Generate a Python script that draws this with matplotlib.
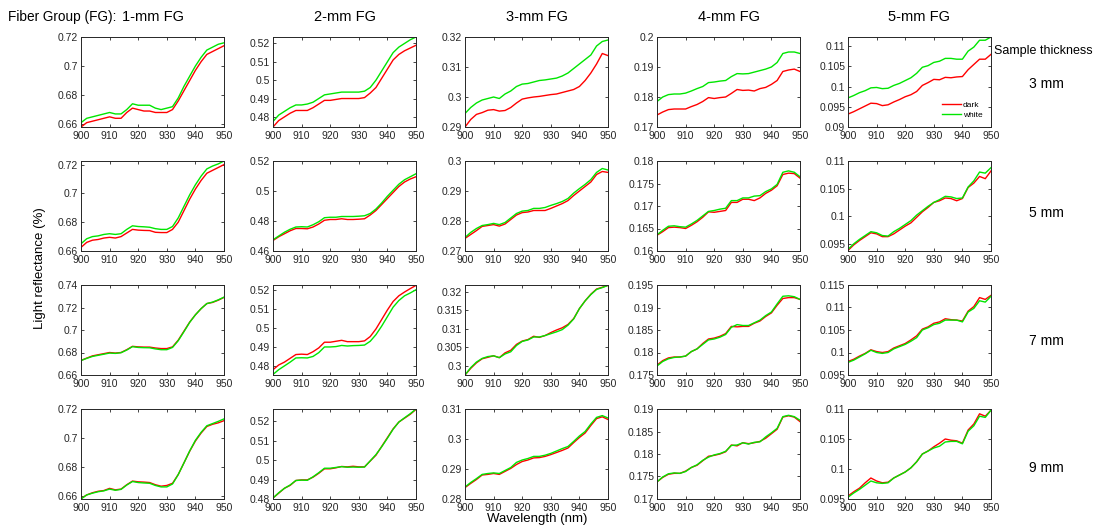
import matplotlib
matplotlib.use("Agg")
import matplotlib.pyplot as plt
from matplotlib.ticker import MultipleLocator, FuncFormatter

plt.rcParams['font.family'] = ['Liberation Sans', 'DejaVu Sans']

# wavelength samples (nm)
wl = [900, 902, 904, 906, 908, 910, 912, 914, 916, 918, 920, 922, 924,
      926, 928, 930, 932, 934, 936, 938, 940, 942, 944, 946, 948, 950]

fiber_groups = ['1-mm FG', '2-mm FG', '3-mm FG', '4-mm FG', '5-mm FG']
thickness = ['3 mm', '5 mm', '7 mm', '9 mm']

# ---- 3 mm samples ----
d3_1 = [0.658, 0.661, 0.662, 0.663, 0.664, 0.665, 0.664, 0.664, 0.668, 0.671, 0.670, 0.669, 0.669,
        0.668, 0.668, 0.668, 0.670, 0.676, 0.683, 0.690, 0.697, 0.703, 0.708, 0.710, 0.712, 0.714]
w3_1 = [0.661, 0.664, 0.665, 0.666, 0.667, 0.668, 0.667, 0.667, 0.670, 0.674, 0.673, 0.673, 0.673,
        0.671, 0.670, 0.671, 0.672, 0.678, 0.686, 0.693, 0.700, 0.706, 0.711, 0.713, 0.715, 0.716]
d3_2 = [0.4745, 0.478, 0.480, 0.482, 0.4835, 0.4835, 0.4835, 0.485, 0.487, 0.489, 0.489, 0.4895, 0.490,
        0.490, 0.490, 0.490, 0.4905, 0.493, 0.496, 0.501, 0.506, 0.511, 0.514, 0.516, 0.5175, 0.519]
w3_2 = [0.4775, 0.481, 0.483, 0.485, 0.4865, 0.4865, 0.487, 0.488, 0.490, 0.492, 0.4925, 0.493, 0.4935,
        0.4935, 0.4935, 0.4935, 0.494, 0.496, 0.500, 0.505, 0.510, 0.515, 0.518, 0.520, 0.522, 0.5235]
d3_3 = [0.2900, 0.2925, 0.2942, 0.2948, 0.2956, 0.2958, 0.2953, 0.2955, 0.2965, 0.2980, 0.2993, 0.2997, 0.3000,
        0.3002, 0.3005, 0.3008, 0.3010, 0.3015, 0.3020, 0.3025, 0.3035, 0.3055, 0.3080, 0.3110, 0.3145, 0.3138]
w3_3 = [0.2945, 0.2965, 0.2980, 0.2990, 0.2995, 0.3000, 0.2995, 0.3010, 0.3020, 0.3035, 0.3043, 0.3045, 0.3050,
        0.3055, 0.3057, 0.3060, 0.3063, 0.3070, 0.3080, 0.3095, 0.3110, 0.3125, 0.3140, 0.3170, 0.3185, 0.3190]
d3_4 = [0.1740, 0.1750, 0.1758, 0.1760, 0.1760, 0.1760, 0.1768, 0.1775, 0.1785, 0.1798, 0.1795, 0.1798, 0.1800,
        0.1812, 0.1825, 0.1822, 0.1823, 0.1820, 0.1828, 0.1832, 0.1842, 0.1855, 0.1885, 0.1890, 0.1893, 0.1885]
w3_4 = [0.1785, 0.1800, 0.1808, 0.1810, 0.1810, 0.1813, 0.1820, 0.1828, 0.1835, 0.1848, 0.1850, 0.1853, 0.1855,
        0.1868, 0.1878, 0.1877, 0.1878, 0.1883, 0.1888, 0.1893, 0.1900, 0.1915, 0.1945, 0.1950, 0.1950, 0.1945]
d3_5 = [0.0932, 0.0938, 0.0945, 0.0952, 0.0959, 0.0958, 0.0953, 0.0955, 0.0962, 0.0968, 0.0975, 0.0980, 0.0988,
        0.1003, 0.1010, 0.1018, 0.1017, 0.1023, 0.1022, 0.1024, 0.1025, 0.1042, 0.1055, 0.1068, 0.1068, 0.1080]
w3_5 = [0.0972, 0.0978, 0.0985, 0.0990, 0.0997, 0.0998, 0.0995, 0.0996, 0.1003, 0.1008, 0.1015, 0.1022, 0.1033,
        0.1048, 0.1052, 0.1060, 0.1063, 0.1070, 0.1070, 0.1068, 0.1068, 0.1088, 0.1098, 0.1115, 0.1115, 0.1123]

# ---- 5 mm samples ----
d5_1 = [0.6625, 0.666, 0.6675, 0.668, 0.669, 0.6695, 0.669, 0.670, 0.6725, 0.675, 0.6745, 0.6743, 0.6742,
        0.673, 0.6728, 0.6728, 0.675, 0.680, 0.688, 0.696, 0.703, 0.709, 0.714, 0.716, 0.718, 0.720]
w5_1 = [0.665, 0.6685, 0.670, 0.6705, 0.6715, 0.672, 0.6715, 0.672, 0.675, 0.6775, 0.677, 0.6768, 0.6765,
        0.6755, 0.675, 0.675, 0.677, 0.683, 0.691, 0.699, 0.706, 0.712, 0.717, 0.719, 0.7205, 0.7225]
d5_2 = [0.467, 0.4695, 0.4715, 0.4735, 0.475, 0.475, 0.4748, 0.476, 0.478, 0.4805, 0.481, 0.481, 0.4815,
        0.481, 0.481, 0.4812, 0.4815, 0.484, 0.487, 0.491, 0.495, 0.499, 0.503, 0.506, 0.508, 0.5095]
w5_2 = [0.4675, 0.470, 0.4725, 0.4745, 0.476, 0.4762, 0.476, 0.4775, 0.4795, 0.4822, 0.4825, 0.4825, 0.483,
        0.483, 0.483, 0.4832, 0.4835, 0.485, 0.488, 0.492, 0.4965, 0.5005, 0.5045, 0.5075, 0.5095, 0.5115]
d5_3 = [0.2742, 0.2755, 0.2768, 0.2782, 0.2785, 0.2788, 0.2783, 0.2790, 0.2805, 0.2820, 0.2828, 0.2830, 0.2835,
        0.2835, 0.2835, 0.2842, 0.2850, 0.2858, 0.2868, 0.2885, 0.2900, 0.2915, 0.2930, 0.2955, 0.2965, 0.2962]
w5_3 = [0.2745, 0.2762, 0.2775, 0.2785, 0.2788, 0.2792, 0.2788, 0.2795, 0.2810, 0.2825, 0.2833, 0.2835, 0.2842,
        0.2842, 0.2845, 0.2852, 0.2858, 0.2865, 0.2875, 0.2893, 0.2908, 0.2922, 0.2938, 0.2962, 0.2975, 0.2970]
d5_4 = [0.1635, 0.1643, 0.1652, 0.1653, 0.1652, 0.1650, 0.1657, 0.1665, 0.1675, 0.1687, 0.1686, 0.1688, 0.1690,
        0.1708, 0.1708, 0.1715, 0.1715, 0.1712, 0.1718, 0.1728, 0.1735, 0.1745, 0.1770, 0.1773, 0.1772, 0.1762]
w5_4 = [0.1636, 0.1646, 0.1655, 0.1656, 0.1654, 0.1653, 0.1660, 0.1668, 0.1678, 0.1688, 0.1690, 0.1693, 0.1695,
        0.1712, 0.1712, 0.1718, 0.1718, 0.1722, 0.1723, 0.1732, 0.1738, 0.1748, 0.1775, 0.1778, 0.1775, 0.1765]
d5_5 = [0.0938, 0.0948, 0.0956, 0.0963, 0.0970, 0.0968, 0.0963, 0.0963, 0.0968, 0.0975, 0.0982, 0.0988, 0.0998,
        0.1008, 0.1016, 0.1025, 0.1028, 0.1033, 0.1032, 0.1028, 0.1032, 0.1052, 0.1060, 0.1072, 0.1068, 0.1082]
w5_5 = [0.0940, 0.0950, 0.0958, 0.0965, 0.0972, 0.0970, 0.0965, 0.0964, 0.0972, 0.0978, 0.0985, 0.0992, 0.1002,
        0.1010, 0.1018, 0.1025, 0.1030, 0.1036, 0.1035, 0.1032, 0.1033, 0.1053, 0.1064, 0.1080, 0.1078, 0.1088]

# ---- 7 mm samples ----
d7_1 = [0.673, 0.675, 0.677, 0.678, 0.679, 0.680, 0.6795, 0.680, 0.6825, 0.6855, 0.685, 0.6848, 0.6848,
        0.684, 0.6835, 0.6835, 0.685, 0.691, 0.699, 0.707, 0.7135, 0.719, 0.7235, 0.7245, 0.7265, 0.729]
w7_1 = [0.6728, 0.6748, 0.6765, 0.6775, 0.6785, 0.6795, 0.6792, 0.6798, 0.6822, 0.6852, 0.6845, 0.6843, 0.6842,
        0.6832, 0.6825, 0.6825, 0.6845, 0.6905, 0.6985, 0.7068, 0.7135, 0.719, 0.7235, 0.7248, 0.7268, 0.7292]
d7_2 = [0.478, 0.4805, 0.482, 0.484, 0.486, 0.4862, 0.486, 0.4875, 0.4895, 0.4925, 0.4925, 0.493, 0.4935,
        0.4928, 0.4928, 0.4928, 0.4932, 0.4955, 0.4995, 0.5045, 0.5095, 0.514, 0.517, 0.519, 0.5208, 0.5225]
w7_2 = [0.4755, 0.478, 0.480, 0.482, 0.4842, 0.4843, 0.4842, 0.485, 0.487, 0.490, 0.490, 0.4902, 0.4908,
        0.4905, 0.4907, 0.4908, 0.491, 0.493, 0.4965, 0.501, 0.506, 0.511, 0.5145, 0.517, 0.5185, 0.5202]
d7_3 = [0.2975, 0.2993, 0.3008, 0.3019, 0.3023, 0.3027, 0.3022, 0.3035, 0.3042, 0.3058, 0.3067, 0.3071, 0.3080,
        0.3077, 0.3082, 0.3090, 0.3097, 0.3103, 0.3112, 0.3128, 0.3155, 0.3176, 0.3194, 0.3208, 0.3213, 0.3218]
w7_3 = [0.2975, 0.2995, 0.3010, 0.3020, 0.3025, 0.3027, 0.3022, 0.3032, 0.3038, 0.3055, 0.3066, 0.3070, 0.3078,
        0.3078, 0.3082, 0.3087, 0.3092, 0.3098, 0.3110, 0.3127, 0.3155, 0.3176, 0.3193, 0.3207, 0.3212, 0.3218]
d7_4 = [0.1772, 0.1782, 0.1788, 0.1790, 0.1790, 0.1792, 0.1802, 0.1808, 0.1820, 0.1830, 0.1832, 0.1836, 0.1842,
        0.1858, 0.1857, 0.1858, 0.1858, 0.1865, 0.1870, 0.1880, 0.1888, 0.1905, 0.1920, 0.1922, 0.1922, 0.1918]
w7_4 = [0.1770, 0.1780, 0.1786, 0.1789, 0.1790, 0.1792, 0.1802, 0.1808, 0.1818, 0.1828, 0.1830, 0.1834, 0.1840,
        0.1856, 0.1862, 0.1860, 0.1860, 0.1866, 0.1872, 0.1882, 0.1890, 0.1908, 0.1925, 0.1926, 0.1924, 0.1918]
d7_5 = [0.0980, 0.0985, 0.0992, 0.0998, 0.1006, 0.1002, 0.1000, 0.1002, 0.1010, 0.1015, 0.1020, 0.1028, 0.1037,
        0.1052, 0.1057, 0.1065, 0.1068, 0.1075, 0.1073, 0.1072, 0.1070, 0.1092, 0.1102, 0.1122, 0.1118, 0.1127]
w7_5 = [0.0978, 0.0983, 0.0990, 0.0997, 0.1005, 0.1000, 0.0998, 0.1000, 0.1008, 0.1013, 0.1018, 0.1025, 0.1033,
        0.1050, 0.1055, 0.1062, 0.1065, 0.1072, 0.1072, 0.1072, 0.1068, 0.1090, 0.1098, 0.1115, 0.1112, 0.1125]

# ---- 9 mm samples ----
d9_1 = [0.6585, 0.661, 0.6625, 0.6635, 0.664, 0.6655, 0.6645, 0.665, 0.668, 0.6705, 0.670, 0.6698, 0.6695,
        0.668, 0.667, 0.6675, 0.669, 0.675, 0.683, 0.691, 0.698, 0.7035, 0.708, 0.7095, 0.7105, 0.712]
w9_1 = [0.6582, 0.661, 0.6622, 0.6632, 0.6638, 0.665, 0.6642, 0.6648, 0.6678, 0.6702, 0.6695, 0.6692, 0.669,
        0.6675, 0.6665, 0.6665, 0.6685, 0.675, 0.683, 0.6912, 0.6985, 0.704, 0.7085, 0.710, 0.7115, 0.7132]
d9_2 = [0.4805, 0.483, 0.4855, 0.487, 0.4895, 0.4898, 0.4898, 0.4912, 0.4932, 0.4955, 0.4955, 0.496, 0.4967,
        0.4965, 0.4968, 0.4965, 0.4965, 0.4995, 0.5025, 0.507, 0.5115, 0.516, 0.5195, 0.5215, 0.5235, 0.526]
w9_2 = [0.4805, 0.4832, 0.4855, 0.4872, 0.4895, 0.4897, 0.4896, 0.4914, 0.4935, 0.4958, 0.4958, 0.4962, 0.4966,
        0.4963, 0.4964, 0.4963, 0.4964, 0.4996, 0.5028, 0.5068, 0.5112, 0.5158, 0.5195, 0.5217, 0.5238, 0.5262]
d9_3 = [0.2838, 0.2852, 0.2865, 0.2880, 0.2882, 0.2885, 0.2882, 0.2892, 0.2902, 0.2915, 0.2925, 0.2930, 0.2937,
        0.2938, 0.2942, 0.2948, 0.2955, 0.2962, 0.2970, 0.2988, 0.3005, 0.3020, 0.3045, 0.3068, 0.3074, 0.3065]
w9_3 = [0.2840, 0.2855, 0.2868, 0.2882, 0.2885, 0.2887, 0.2885, 0.2895, 0.2905, 0.2922, 0.2930, 0.2935, 0.2942,
        0.2942, 0.2946, 0.2952, 0.2960, 0.2968, 0.2975, 0.2992, 0.3010, 0.3025, 0.3050, 0.3072, 0.3078, 0.3070]
d9_4 = [0.1738, 0.1748, 0.1755, 0.1757, 0.1757, 0.1762, 0.1770, 0.1775, 0.1785, 0.1795, 0.1797, 0.1800, 0.1805,
        0.1820, 0.1818, 0.1825, 0.1823, 0.1825, 0.1828, 0.1835, 0.1845, 0.1855, 0.1882, 0.1885, 0.1882, 0.1872]
w9_4 = [0.1738, 0.1749, 0.1756, 0.1758, 0.1757, 0.1761, 0.1770, 0.1776, 0.1786, 0.1793, 0.1798, 0.1801, 0.1806,
        0.1819, 0.1820, 0.1825, 0.1822, 0.1826, 0.1827, 0.1838, 0.1847, 0.1857, 0.1883, 0.1886, 0.1883, 0.1875]
d9_5 = [0.0955, 0.0962, 0.0968, 0.0977, 0.0985, 0.0980, 0.0977, 0.0978, 0.0985, 0.0990, 0.0995, 0.1002, 0.1012,
        0.1025, 0.1030, 0.1037, 0.1043, 0.1050, 0.1048, 0.1047, 0.1043, 0.1065, 0.1075, 0.1092, 0.1088, 0.1098]
w9_5 = [0.0953, 0.0960, 0.0966, 0.0973, 0.0980, 0.0977, 0.0976, 0.0977, 0.0985, 0.0990, 0.0995, 0.1002, 0.1012,
        0.1025, 0.1030, 0.1035, 0.1038, 0.1045, 0.1046, 0.1046, 0.1042, 0.1063, 0.1072, 0.1088, 0.1086, 0.1098]

dark = [[d3_1, d3_2, d3_3, d3_4, d3_5],
        [d5_1, d5_2, d5_3, d5_4, d5_5],
        [d7_1, d7_2, d7_3, d7_4, d7_5],
        [d9_1, d9_2, d9_3, d9_4, d9_5]]
white = [[w3_1, w3_2, w3_3, w3_4, w3_5],
         [w5_1, w5_2, w5_3, w5_4, w5_5],
         [w7_1, w7_2, w7_3, w7_4, w7_5],
         [w9_1, w9_2, w9_3, w9_4, w9_5]]

# y axis limits and tick steps per panel
ylims = [[(0.658, 0.72), (0.4745, 0.5235), (0.29, 0.32), (0.17, 0.2), (0.09, 0.1123)],
         [(0.66, 0.7225), (0.46, 0.52), (0.27, 0.3), (0.16, 0.18), (0.0937, 0.11)],
         [(0.66, 0.74), (0.4752, 0.5227), (0.2975, 0.3219), (0.175, 0.195), (0.095, 0.115)],
         [(0.6582, 0.72), (0.48, 0.5262), (0.28, 0.31), (0.17, 0.19), (0.095, 0.11)]]
ysteps = [[0.02, 0.01, 0.01, 0.01, 0.005],
          [0.02, 0.02, 0.01, 0.005, 0.005],
          [0.02, 0.01, 0.005, 0.005, 0.005],
          [0.02, 0.01, 0.01, 0.005, 0.005]]

W, H = 1106, 530
fig = plt.figure(figsize=(W / 100, H / 100), dpi=100)

col_left = [81, 273, 465, 657, 848]
row_top = [37, 161, 285, 409]
pw, ph = 143, 90
axcol = '#262626'
fmt = FuncFormatter(lambda v, p: '{:g}'.format(round(v, 4)))

for r in range(4):
    for c in range(5):
        ax = fig.add_axes([col_left[c] / W, 1 - (row_top[r] + ph) / H, pw / W, ph / H])
        ax.plot(wl, dark[r][c], color='#ff0000', lw=1.0, label='dark')
        ax.plot(wl, white[r][c], color='#00e600', lw=1.0, label='white')
        ax.set_xlim(900, 950)
        ax.set_ylim(*ylims[r][c])
        ax.xaxis.set_major_locator(MultipleLocator(10))
        ax.yaxis.set_major_locator(MultipleLocator(ysteps[r][c]))
        ax.yaxis.set_major_formatter(fmt)
        ax.tick_params(direction='in', length=2.5, width=0.6, top=True, right=True,
                       labelsize=7.5, colors=axcol)
        ax.tick_params(axis='x', pad=3)
        ax.tick_params(axis='y', pad=2)
        for s in ax.spines.values():
            s.set_color(axcol)
            s.set_linewidth(0.7)
        if r == 0 and c == 4:
            ax.legend(loc='lower right', frameon=False, fontsize=6, handlelength=2.2,
                      handletextpad=0.3, labelspacing=0.25, borderaxespad=0.6)

# column titles
for c in range(5):
    fig.text((col_left[c] + pw / 2) / W, 1 - 17 / H, fiber_groups[c], ha='center', va='center', fontsize=10.5)
fig.text(8 / W, 1 - 17 / H, 'Fiber Group (FG):', ha='left', va='center', fontsize=9.8)

# row labels
fig.text(994 / W, 1 - 51 / H, 'Sample thickness', ha='left', va='center', fontsize=9)
row_label_y = [84, 213, 341, 468]
for r in range(4):
    fig.text(1046 / W, 1 - row_label_y[r] / H, thickness[r], ha='center', va='center', fontsize=10)

fig.text(40 / W, 1 - 268 / H, 'Light reflectance (%)', rotation=90, ha='center', va='center', fontsize=9.5)
fig.text(537 / W, 1 - 519 / H, 'Wavelength (nm)', ha='center', va='center', fontsize=9.5)

fig.savefig('out.png', dpi=100)
